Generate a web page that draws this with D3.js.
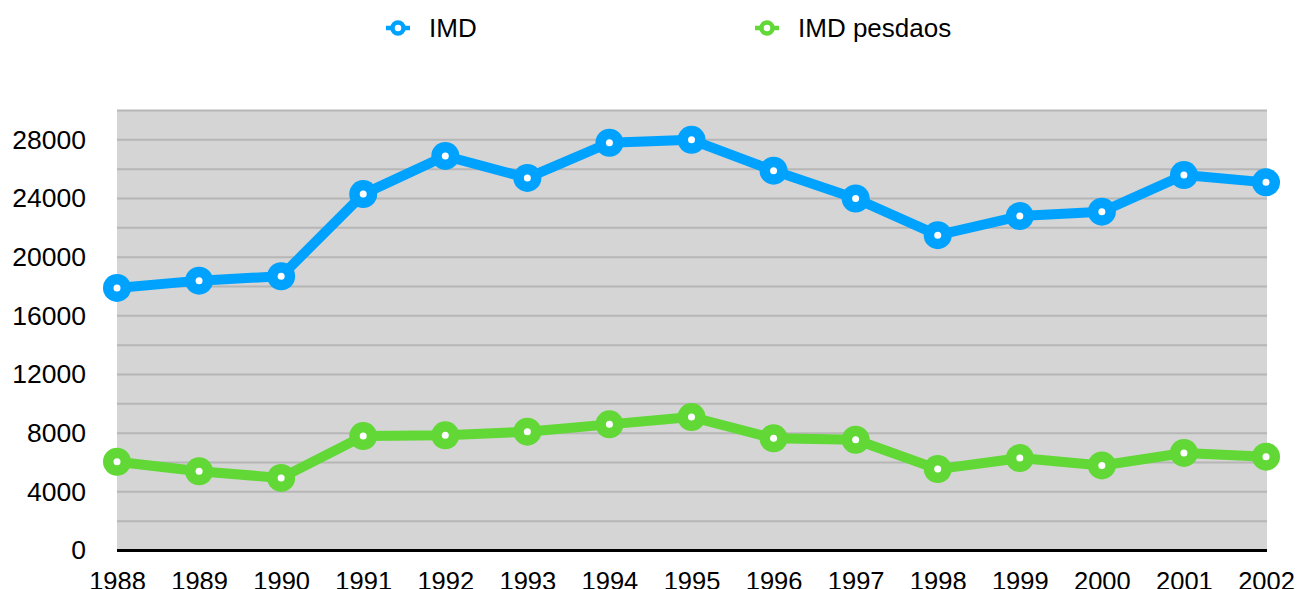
<!DOCTYPE html>
<html lang="es">
<head>
<meta charset="utf-8">
<title>IMD</title>
<script src="https://cdnjs.cloudflare.com/ajax/libs/d3/7.8.5/d3.min.js"></script>
<style>
  body { margin: 0; background: #fff; }
  text { font-family: "Liberation Sans", Arial, sans-serif; fill: #000; }
</style>
</head>
<body>
<div id="chart"></div>
<script>
var years = ["1988","1989","1990","1991","1992","1993","1994","1995","1996","1997","1998","1999","2000","2001","2002"];
var imd = [17900, 18400, 18700, 24300, 26900, 25400, 27800, 28000, 25900, 24000, 21500, 22800, 23100, 25600, 25100];
var imdPesdaos = [6050, 5400, 4950, 7800, 7850, 8100, 8600, 9100, 7650, 7550, 5550, 6300, 5800, 6650, 6400];
var yTicks = [0, 4000, 8000, 12000, 16000, 20000, 24000, 28000];
var gridValues = d3.range(2000, 30001, 2000);
var seriesNames = ["IMD", "IMD pesdaos"];
var colors = ["#00a2ff", "#61d836"];

var width = 1298, height = 589;
var plotLeft = 117, plotRight = 1267, plotTop = 110.5, plotBottom = 550.5;

var svg = d3.select("#chart").append("svg")
    .attr("width", width)
    .attr("height", height);

var x = d3.scalePoint().domain(years).range([plotLeft, plotRight - 1]);
var y = d3.scaleLinear().domain([0, 30000]).range([plotBottom, plotTop]);

// plot background
svg.append("rect")
    .attr("x", plotLeft)
    .attr("y", plotTop)
    .attr("width", plotRight - plotLeft)
    .attr("height", plotBottom - plotTop)
    .attr("fill", "#d5d5d5");

// grid
svg.append("g").selectAll("line")
    .data(gridValues)
    .enter().append("line")
    .attr("x1", plotLeft).attr("x2", plotRight)
    .attr("y1", function(d){ return y(d); })
    .attr("y2", function(d){ return y(d); })
    .attr("stroke", "#b6b6b6")
    .attr("stroke-width", 2);

// y axis labels
var yAxis = d3.axisLeft(y).tickValues(yTicks).tickSize(0).tickPadding(31).tickFormat(d3.format("d"));
var gy = svg.append("g").attr("transform", "translate(" + plotLeft + ",0)").call(yAxis);
gy.select(".domain").remove();
gy.selectAll("text").attr("font-size", 26.5).attr("font-family", "Liberation Sans, Arial, sans-serif").attr("fill", "#000");

// x axis
var xAxis = d3.axisBottom(x).tickSize(0).tickPadding(21);
var gx = svg.append("g").attr("transform", "translate(0," + plotBottom + ")").call(xAxis);
gx.select(".domain").remove();
gx.selectAll("text").attr("font-size", 25.5).attr("font-family", "Liberation Sans, Arial, sans-serif").attr("fill", "#000");
svg.append("line")
    .attr("x1", plotLeft).attr("x2", plotRight)
    .attr("y1", plotBottom).attr("y2", plotBottom)
    .attr("stroke", "#000")
    .attr("stroke-width", 3);

// series
var series = [imd, imdPesdaos];
var line = d3.line()
    .x(function(d, i){ return x(years[i]); })
    .y(function(d){ return y(d); });

series.forEach(function(values, s){
    svg.append("path")
        .datum(values)
        .attr("d", line)
        .attr("fill", "none")
        .attr("stroke", colors[s])
        .attr("stroke-width", 10)
        .attr("stroke-linejoin", "round");
    var g = svg.append("g");
    g.selectAll("circle.outer")
        .data(values)
        .enter().append("circle")
        .attr("class", "outer")
        .attr("cx", function(d, i){ return x(years[i]); })
        .attr("cy", function(d){ return y(d); })
        .attr("r", 14)
        .attr("fill", colors[s]);
    g.selectAll("circle.inner")
        .data(values)
        .enter().append("circle")
        .attr("class", "inner")
        .attr("cx", function(d, i){ return x(years[i]); })
        .attr("cy", function(d){ return y(d); })
        .attr("r", 3.5)
        .attr("fill", "#fff");
});

// legend
var legendX = [398, 767];
seriesNames.forEach(function(name, s){
    var lg = svg.append("g").attr("transform", "translate(" + legendX[s] + ",28)");
    lg.append("line")
        .attr("x1", -12).attr("x2", 12)
        .attr("stroke", colors[s])
        .attr("stroke-width", 4.5);
    lg.append("circle")
        .attr("r", 5.5)
        .attr("fill", "#fff")
        .attr("stroke", colors[s])
        .attr("stroke-width", 4.5);
    lg.append("text")
        .attr("x", 31)
        .attr("dy", "0.36em")
        .attr("font-size", 26)
        .text(name);
});
</script>
</body>
</html>
